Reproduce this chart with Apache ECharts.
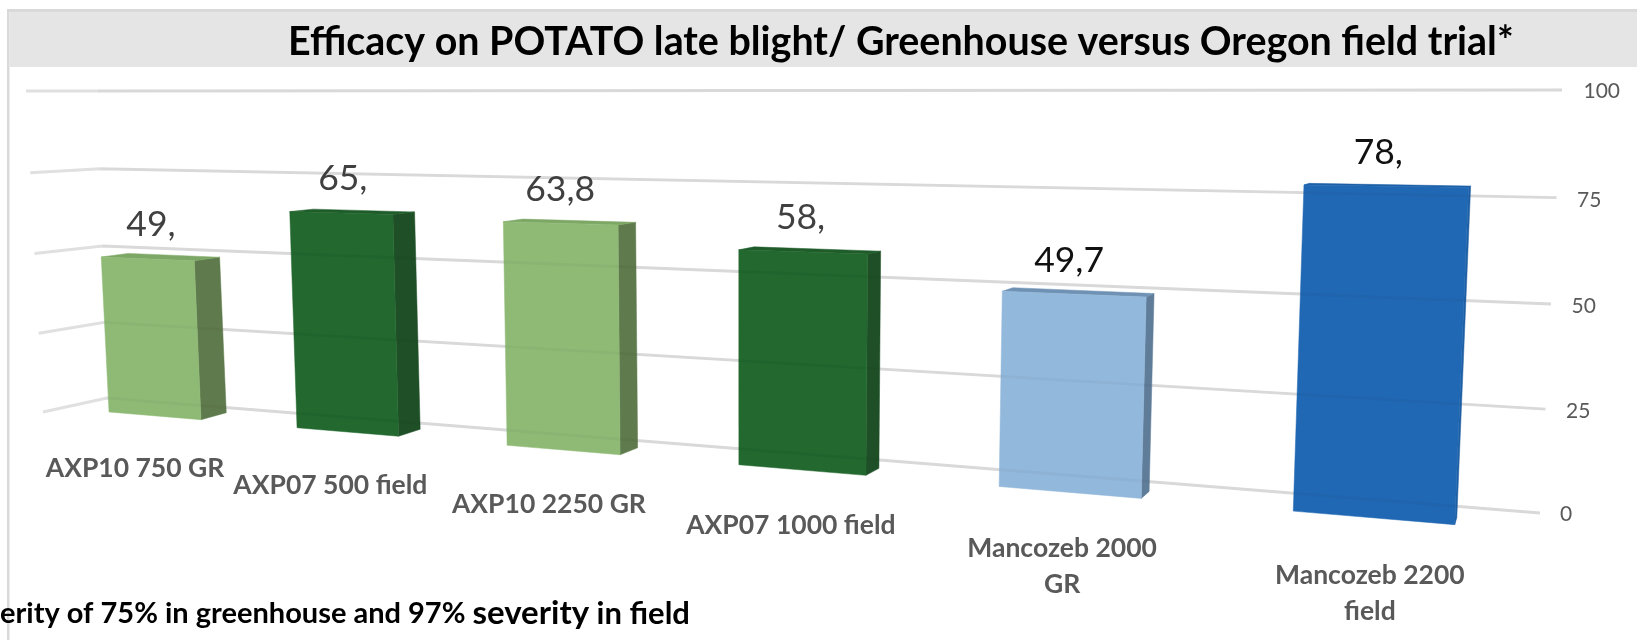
<!DOCTYPE html>
<html><head><meta charset="utf-8">
<script src="https://cdn.jsdelivr.net/npm/echarts@6/dist/echarts.min.js"></script>
<style>html,body{margin:0;padding:0;background:#fff}#c{width:1637px;height:640px}</style>
</head><body><div id="c"></div>
<script>
const categories = ['AXP10 750 GR','AXP07 500 field','AXP10 2250 GR','AXP07 1000 field','Mancozeb 2000\nGR','Mancozeb 2200\nfield'];
const efficacy = [49, 65, 63.8, 58, 49.7, 78];
const tickLabels = [0, 25, 50, 75, 100];
const chartTitle = 'Efficacy on POTATO late blight/ Greenhouse versus Oregon field trial*';

// presentation only
const faceColors = ['#8FBA76','#22682F','#8FBA76','#22682F','#92B8DB','#2068B3'];
const sideColors = ['#5F7A4C','#1E4F27','#5F7A4C','#1E4F27','#5F7C99','#1E5EA3'];
const topColors  = ['#7DA764','#1F5C2A','#7DA764','#1F5C2A','#6F92B4','#1D5FA6'];
const labelColors = ['#404040','#404040','#404040','#404040','#111','#111'];
const widthInBand = [.385,.425,.473,.532,.595,.676];
const nudge = [0,5,5,0,-4,0];
const tickNudge = {0:[2,0],25:[8,6],50:[9,11.6],75:[8,17],100:[2,23.5]};
const FONT = 'Lato';
const gridLeft = 107, gridRight = 97, gridTop = 90, gridBottom = 127;
const PLOT_W = 1637 - gridLeft - gridRight, PLOT_H = 640 - gridTop - gridBottom;

// oblique view: turns the flat axis position into the tilted picture plane
const pxPerUnit = PLOT_H / 100;
function frontX(flatX, i){ const k = (flatX - gridLeft) / PLOT_W * 6 - .5; return 155 + 173.8*k + 14*k*k + nudge[i]; }
function frontBase(x){ return 412 + .0837*(x - 109); }
function frontScale(x){ return (3.07 + .00086*x) / pxPerUnit; }
function tilt(x, h){ return x + (h/pxPerUnit)*(x - 745)*.00025; }
function fmt(v){ const s = String(v).replace('.', ','); return s.indexOf(',') < 0 ? s + ',' : s; }

function renderBar(params, api){
  const i = api.value(0), v = api.value(1);
  const base = api.coord([i, 0]), top = api.coord([i, v]);
  const h = base[1] - top[1];
  const cx = frontX(base[0], i), w = api.size([1, 0])[0] * widthInBand[i];
  const xL = cx - w/2, xR = cx + w/2;
  const BL = [xL, frontBase(xL)], BR = [xR, frontBase(xR)];
  const TL = [tilt(xL, h), BL[1] - h*frontScale(xL)], TR = [tilt(xR, h), BR[1] - h*frontScale(xR)];
  const dx = x => 29 - .0185*x;
  const dyTop = -7 + .07*(h/pxPerUnit);
  const poly = (pts, fill) => ({type:'polygon', shape:{points:pts}, style:{fill, stroke:fill, lineWidth:.5}});
  const TLb = [TL[0]+dx(xL), TL[1]+dyTop], TRb = [TR[0]+dx(xR), TR[1]+dyTop], BRb = [BR[0]+dx(xR), BR[1]-7];
  const topCx = (TL[0]+TR[0])/2, topCy = (TL[1]+TR[1])/2, baseCx = (BL[0]+BR[0])/2, baseCy = (BL[1]+BR[1])/2;
  return {type:'group', children:[
    poly([BR, BRb, TRb, TR], sideColors[i]),
    poly([TL, TLb, TRb, TR], topColors[i]),
    poly([BL, BR, TR, TL], faceColors[i]),
    {type:'text', style:{text:fmt(v), x:topCx + 4.5 - .009*topCx, y:topCy - 34, textAlign:'center', textVerticalAlign:'middle',
      font:'35.5px '+FONT, fill:labelColors[i]}},
    {type:'text', style:{text:categories[i], x:baseCx - 22 + .013*baseCx, y:baseCy + 34 + .004*baseCx, textAlign:'center', textVerticalAlign:'top',
      font:'bold 26.5px '+FONT, fill:'#595959', lineHeight:36}}
  ]};
}
function wallLine(stroke, width, withSide){
  return function(params, api){
    const v = api.value(0), p = api.coord([0, v]), h = (gridTop + PLOT_H - p[1]) / pxPerUnit;
    const bow = h*(100-h)/2500;
    const right = [gridLeft + PLOT_W + .22*h, p[1] + 2.5*bow];
    const corner = [107 - .09*h, 398 - 3.07*h + 1.5*bow];
    const side = [43 - .17*h, 412 - 3.21*h + 2*bow];
    return {type:'group', children:[{type:'polyline', shape:{points: withSide ? [side, corner, right] : [corner, right]}, style:{stroke, lineWidth:width, fill:null}}]};
  };
}
const rich = {};
tickLabels.forEach(t => { rich['t'+t] = {fontFamily:FONT, fontSize:21, color:'#595959', padding:[tickNudge[t][0],0,0,tickNudge[t][1]]}; });

const chart = echarts.init(document.getElementById('c'), null, {renderer:'canvas'});
chart.setOption({
  animation:false,
  backgroundColor:'#fff',
  graphic:[
    {type:'rect', z:0, shape:{x:7,y:9,width:1630,height:3}, style:{fill:'#D9D9D9'}},
    {type:'rect', z:0, shape:{x:7,y:9,width:2.5,height:631}, style:{fill:'#D9D9D9'}},
    {type:'rect', z:0, shape:{x:9.5,y:12,width:1628,height:55}, style:{fill:'#E5E5E5'}}
  ],
  title:[
    {text:chartTitle, left:288, top:23, padding:0, textStyle:{fontFamily:FONT, fontWeight:'bold', fontSize:39.4, color:'#000'}},
    {text:'{a|erity of 75% in greenhouse and 97% }{b|severity}{c| in field}', left:0, top:597, padding:0,
     textStyle:{rich:{a:{fontFamily:FONT,fontWeight:'bold',fontSize:29,color:'#000'},b:{fontFamily:FONT,fontWeight:'bold',fontSize:33,color:'#000'},c:{fontFamily:FONT,fontWeight:'bold',fontSize:31,color:'#000'}}}}
  ],
  grid:{left:gridLeft, right:gridRight, top:gridTop, bottom:gridBottom},
  xAxis:{type:'category', data:categories, show:false},
  yAxis:{type:'value', min:0, max:100, interval:25, position:'right',
    axisLine:{show:false}, axisTick:{show:false}, splitLine:{show:false},
    axisLabel:{margin:20, formatter:v => '{t'+v+'|'+v+'}', rich}},
  series:[
    {type:'custom', z:1, silent:true, data:tickLabels.map(t=>[t]), encode:{y:0}, renderItem:wallLine('#E0E0E0',3,true)},
    {type:'custom', z:2, data:efficacy.map((v,i)=>[i,v]), encode:{x:0,y:1}, renderItem:renderBar},
    {type:'custom', z:3, silent:true, data:tickLabels.map(t=>[t]), encode:{y:0}, renderItem:wallLine('rgba(0,0,0,0.03)',3,false)}
  ]
});
</script></body></html>
